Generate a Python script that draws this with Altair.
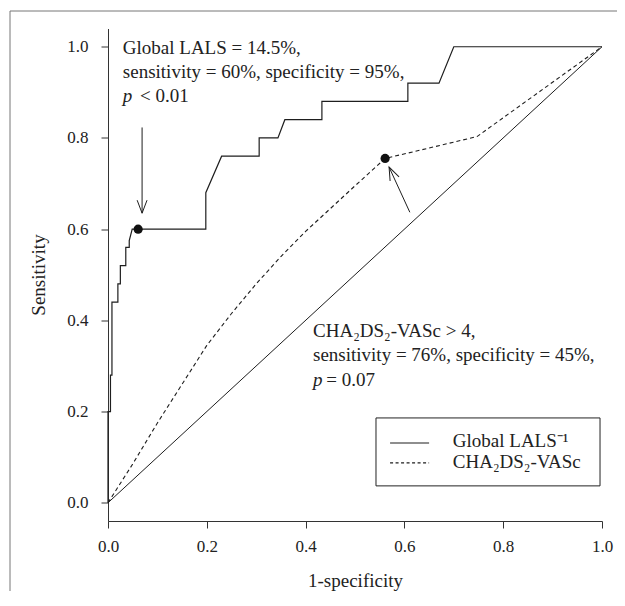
import altair as alt
import pandas as pd

# ---- data ----
# Global LALS ROC curve (solid step line)
lals_fpr = [0.0, 0.0, 0.005, 0.005, 0.008, 0.008, 0.02, 0.02, 0.025, 0.025, 0.036, 0.036,
            0.043, 0.043, 0.049, 0.198, 0.198, 0.23, 0.306, 0.306, 0.344, 0.358, 0.433,
            0.433, 0.607, 0.607, 0.67, 0.70, 1.0]
lals_tpr = [0.0, 0.2, 0.2, 0.28, 0.28, 0.44, 0.44, 0.48, 0.48, 0.52, 0.52, 0.56,
            0.56, 0.575, 0.6, 0.6, 0.68, 0.76, 0.76, 0.80, 0.80, 0.84, 0.84,
            0.88, 0.88, 0.92, 0.92, 1.0, 1.0]
# CHA2DS2-VASc ROC curve (dashed)
cha_fpr = [0.0, 0.05, 0.1, 0.15, 0.2, 0.25, 0.3, 0.35, 0.4, 0.45, 0.5, 0.561, 0.747, 1.0]
cha_tpr = [0.0, 0.085, 0.175, 0.26, 0.345, 0.415, 0.48, 0.54, 0.595, 0.645, 0.695, 0.755, 0.803, 1.0]
# reference diagonal
diag_x = [0.0, 1.0]
diag_y = [0.0, 1.0]
# cut-off points
cut_x = [0.061, 0.561]
cut_y = [0.6, 0.755]
# arrows (tail -> tip)
arr_x = [0.069, 0.611]
arr_y = [0.823, 0.637]
arr_x2 = [0.069, 0.569]
arr_y2 = [0.635, 0.736]
arr_angle = [0, 155]

# annotation text
ann_text = ["Global LALS = 14.5%,", "sensitivity = 60%, specificity = 95%,",
            "CHA\u2082DS\u2082-VASc > 4,", "sensitivity = 76%, specificity = 45%,"]
ann_x = [0.030, 0.030, 0.415, 0.415]
ann_y = [0.985, 0.932, 0.364, 0.310]
p_x = [0.030, 0.415]
p_y = [0.878, 0.255]
pval_text = ["< 0.01", "= 0.07"]
pval_x = [0.0648, 0.442]

# legend
leg_box = dict(x=[0.5425], x2=[0.996], y=[0.037], y2=[0.186])
leg_labels = ["Global LALS\u207b\u00b9", "CHA\u2082DS\u2082-VASc"]
leg_series = ["lals", "cha"]
leg_sx = [0.571, 0.571]
leg_sx2 = [0.650, 0.650]
leg_sy = [0.131, 0.0875]
leg_tx = [0.698, 0.698]
leg_ty = [0.1225, 0.0766]

# ---- styling ----
FONT = "Liberation Serif"
INK = "#1e1e1e"
TXT = "#222222"

xs = alt.Scale(domain=[0, 1], nice=False, zero=False)
ys = alt.Scale(domain=[-0.04, 1.04], nice=False, zero=False)
ticks = [0.0, 0.2, 0.4, 0.6, 0.8, 1.0]

x_axis = alt.Axis(values=ticks, format=".1f", title="1-specificity", grid=False,
                  tickSize=7, labelPadding=18, labelBaseline="middle", labelFlush=False,
                  labelFont=FONT, labelFontSize=17, labelColor=TXT,
                  titleFont=FONT, titleFontSize=19, titleFontWeight="normal", titleColor=TXT,
                  titleX=247, titleY=59, titleBaseline="middle", titleAlign="center",
                  domainColor="#333333", tickColor="#333333", domainWidth=1, tickWidth=1)
y_axis = alt.Axis(values=ticks, format=".1f", title="Sensitivity", grid=False,
                  tickSize=7, labelPadding=13, labelFlush=False,
                  labelFont=FONT, labelFontSize=17, labelColor=TXT,
                  titleFont=FONT, titleFontSize=19, titleFontWeight="normal", titleColor=TXT,
                  titleX=-70, titleY=246, titleBaseline="middle", titleAlign="center",
                  titleAngle=270,
                  domainColor="#333333", tickColor="#333333", domainWidth=1, tickWidth=1)


def X(field):
    return alt.X(field, type="quantitative", scale=xs, axis=x_axis)


def Y(field):
    return alt.Y(field, type="quantitative", scale=ys, axis=y_axis)


lals_df = pd.DataFrame({"x": lals_fpr, "y": lals_tpr, "i": range(len(lals_fpr))})
cha_df = pd.DataFrame({"x": cha_fpr, "y": cha_tpr, "i": range(len(cha_fpr))})
diag_df = pd.DataFrame({"x": diag_x, "y": diag_y})
cut_df = pd.DataFrame({"x": cut_x, "y": cut_y})
arr_df = pd.DataFrame({"x": arr_x, "y": arr_y, "x2": arr_x2, "y2": arr_y2, "a": arr_angle})
ann_df = pd.DataFrame({"x": ann_x, "y": ann_y, "t": ann_text})
p_df = pd.DataFrame({"x": p_x, "y": p_y, "t": ["p", "p"]})
pv_df = pd.DataFrame({"x": pval_x, "y": p_y, "t": pval_text})
box_df = pd.DataFrame(leg_box)
leg_df = pd.DataFrame({"x": leg_sx, "x2": leg_sx2, "y": leg_sy, "tx": leg_tx, "ty": leg_ty,
                       "t": leg_labels, "s": leg_series})
dummy = pd.DataFrame({"a": [0]})

diag = alt.Chart(diag_df).mark_line(color=INK, strokeWidth=1).encode(x=X("x"), y=Y("y"))

lals = alt.Chart(lals_df).mark_line(color=INK, strokeWidth=1.2).encode(
    x=X("x"), y=Y("y"), order="i:Q")

cha = alt.Chart(cha_df).mark_line(color=INK, strokeWidth=1.1, strokeDash=[4, 3]).encode(
    x=X("x"), y=Y("y"), order="i:Q")

pts = alt.Chart(cut_df).mark_circle(color="#111111", size=85, opacity=1).encode(
    x=X("x"), y=Y("y"))

shafts = alt.Chart(arr_df).mark_rule(color=INK, strokeWidth=1).encode(
    x=X("x"), y=Y("y"), x2="x2:Q", y2="y2:Q")

heads = alt.Chart(arr_df).mark_point(shape="M -0.38 -1 L 0 0 L 0.38 -1", size=676,
                                     filled=False, color=INK, strokeWidth=1,
                                     opacity=1).encode(
    x=X("x2"), y=Y("y2"), angle=alt.Angle("a:Q", scale=None))

txt = alt.Chart(ann_df).mark_text(align="left", baseline="alphabetic", font=FONT,
                                  fontSize=19, color=TXT).encode(
    x=X("x"), y=Y("y"), text="t:N")

ptxt = alt.Chart(p_df).mark_text(align="left", baseline="alphabetic", font=FONT,
                                 fontSize=19, fontStyle="italic", color=TXT).encode(
    x=X("x"), y=Y("y"), text="t:N")

pvtxt = alt.Chart(pv_df).mark_text(align="left", baseline="alphabetic", font=FONT,
                                   fontSize=19, color=TXT).encode(
    x=X("x"), y=Y("y"), text="t:N")

box = alt.Chart(box_df).mark_rect(fill="white", stroke="#222222", strokeWidth=1).encode(
    x=X("x"), x2="x2:Q", y=Y("y"), y2="y2:Q")

leg_solid = alt.Chart(leg_df).transform_filter(alt.datum.s == "lals").mark_rule(
    color=INK, strokeWidth=1.1).encode(x=X("x"), x2="x2:Q", y=Y("y"))
leg_dash = alt.Chart(leg_df).transform_filter(alt.datum.s == "cha").mark_rule(
    color=INK, strokeWidth=1.1, strokeDash=[3, 2.5]).encode(x=X("x"), x2="x2:Q", y=Y("y"))
leg_txt = alt.Chart(leg_df).mark_text(align="left", baseline="alphabetic", font=FONT,
                                      fontSize=19, color=TXT).encode(
    x=X("tx"), y=Y("ty"), text="t:N")

frame_top = alt.Chart(dummy).mark_rule(color="#777777", strokeWidth=1).encode(
    x=alt.value(-98), x2=alt.value(509), y=alt.value(-17.5))
frame_left = alt.Chart(dummy).mark_rule(color="#777777", strokeWidth=1).encode(
    x=alt.value(-98), y=alt.value(-17.5), y2=alt.value(562.5))

chart = alt.layer(
    diag, cha, lals, shafts, heads, pts, txt, ptxt, pvtxt,
    box, leg_solid, leg_dash, leg_txt, frame_top, frame_left
).properties(
    width=494, height=492.5,
    autosize=alt.AutoSizeParams(type="none"),
    padding={"left": 100, "top": 20.5, "right": 15, "bottom": 70},
    background="white",
).configure_view(strokeWidth=0)

chart.save("out.html", embed_options={"renderer": "svg", "actions": False})
